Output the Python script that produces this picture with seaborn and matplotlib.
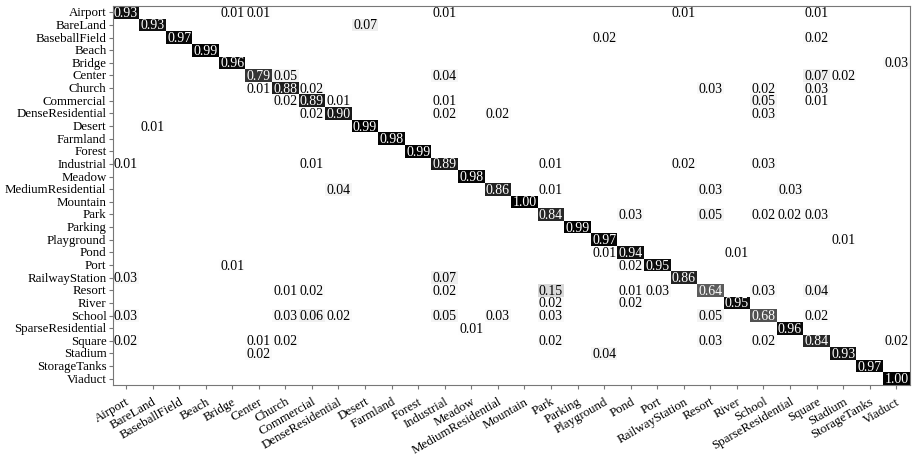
import numpy as np
import pandas as pd
import matplotlib
matplotlib.use("Agg")
import matplotlib.pyplot as plt
from matplotlib import font_manager
import seaborn as sns

classes = [
    "Airport", "BareLand", "BaseballField", "Beach", "Bridge", "Center",
    "Church", "Commercial", "DenseResidential", "Desert", "Farmland", "Forest",
    "Industrial", "Meadow", "MediumResidential", "Mountain", "Park", "Parking",
    "Playground", "Pond", "Port", "RailwayStation", "Resort", "River", "School",
    "SparseResidential", "Square", "Stadium", "StorageTanks", "Viaduct",
]

# per-class accuracy (diagonal)
diag = [0.93, 0.93, 0.97, 0.99, 0.96, 0.79, 0.88, 0.89, 0.90, 0.99, 0.98, 0.99,
        0.89, 0.98, 0.86, 1.00, 0.84, 0.99, 0.97, 0.94, 0.95, 0.86, 0.64, 0.95,
        0.68, 0.96, 0.84, 0.93, 0.97, 1.00]

# off-diagonal confusions: true class, predicted class, rate
conf_true = [
    "Airport", "Airport", "Airport", "Airport", "Airport",
    "BareLand",
    "BaseballField", "BaseballField",
    "Bridge",
    "Center", "Center", "Center", "Center",
    "Church", "Church", "Church", "Church", "Church",
    "Commercial", "Commercial", "Commercial", "Commercial", "Commercial",
    "DenseResidential", "DenseResidential", "DenseResidential", "DenseResidential",
    "Desert",
    "Industrial", "Industrial", "Industrial", "Industrial", "Industrial",
    "MediumResidential", "MediumResidential", "MediumResidential", "MediumResidential",
    "Park", "Park", "Park", "Park", "Park",
    "Playground",
    "Pond", "Pond",
    "Port", "Port",
    "RailwayStation", "RailwayStation",
    "Resort", "Resort", "Resort", "Resort", "Resort", "Resort", "Resort", "Resort",
    "River", "River",
    "School", "School", "School", "School", "School", "School", "School", "School", "School",
    "SparseResidential",
    "Square", "Square", "Square", "Square", "Square", "Square", "Square",
    "Stadium", "Stadium",
]
conf_pred = [
    "Bridge", "Center", "Industrial", "RailwayStation", "Square",
    "Desert",
    "Playground", "Square",
    "Viaduct",
    "Church", "Industrial", "Square", "Stadium",
    "Center", "Commercial", "Resort", "School", "Square",
    "Church", "DenseResidential", "Industrial", "School", "Square",
    "Commercial", "Industrial", "MediumResidential", "School",
    "BareLand",
    "Airport", "Commercial", "Park", "RailwayStation", "School",
    "DenseResidential", "Park", "Resort", "SparseResidential",
    "Pond", "Resort", "School", "SparseResidential", "Square",
    "Stadium",
    "Playground", "River",
    "Bridge", "Pond",
    "Airport", "Industrial",
    "Church", "Commercial", "Industrial", "Park", "Pond", "Port", "School", "Square",
    "Park", "Pond",
    "Airport", "Church", "Commercial", "DenseResidential", "Industrial",
    "MediumResidential", "Park", "Resort", "Square",
    "Meadow",
    "Airport", "Center", "Church", "Park", "Resort", "School", "Viaduct",
    "Center", "Playground",
]
conf_rate = [
    0.01, 0.01, 0.01, 0.01, 0.01,
    0.07,
    0.02, 0.02,
    0.03,
    0.05, 0.04, 0.07, 0.02,
    0.01, 0.02, 0.03, 0.02, 0.03,
    0.02, 0.01, 0.01, 0.05, 0.01,
    0.02, 0.02, 0.02, 0.03,
    0.01,
    0.01, 0.01, 0.01, 0.02, 0.03,
    0.04, 0.01, 0.03, 0.03,
    0.03, 0.05, 0.02, 0.02, 0.03,
    0.01,
    0.01, 0.01,
    0.01, 0.02,
    0.03, 0.07,
    0.01, 0.02, 0.02, 0.15, 0.01, 0.03, 0.03, 0.04,
    0.02, 0.02,
    0.03, 0.03, 0.06, 0.02, 0.05, 0.03, 0.03, 0.05, 0.02,
    0.01,
    0.02, 0.01, 0.02, 0.02, 0.03, 0.02, 0.02,
    0.02, 0.04,
]

cm = pd.DataFrame(np.diag(diag), index=classes, columns=classes)
for t, p, r in zip(conf_true, conf_pred, conf_rate):
    cm.loc[t, p] = r

labels = cm.map(lambda v: f"{v:.2f}" if v > 0 else "")

sns.set_style("white")
serif_path = font_manager.findfont(
    font_manager.FontProperties(family="Liberation Serif"))
serif_name = font_manager.FontProperties(fname=serif_path).get_name()
plt.rcParams["font.family"] = "serif"
plt.rcParams["font.serif"] = [serif_name, "Times New Roman", "DejaVu Serif"]
plt.rcParams["text.color"] = "black"

fig = plt.figure(figsize=(9.16, 4.64), dpi=100)
ax = fig.add_axes([0.123, 0.168, 0.870, 0.817])

sns.heatmap(cm, ax=ax, cmap="gray_r", vmin=0, vmax=1, cbar=False,
            annot=labels.values, fmt="", annot_kws={"fontsize": 10},
            xticklabels=True, yticklabels=True)

# dark cells get white numbers, light cells black numbers
for txt in ax.texts:
    s = txt.get_text()
    if s:
        txt.set_color("white" if float(s) > 0.5 else "black")

for side in ["left", "bottom", "top", "right"]:
    ax.spines[side].set_visible(True)
    ax.spines[side].set_color("#777777")
    ax.spines[side].set_linewidth(0.8)

ax.tick_params(axis="both", which="major", length=3, width=0.8,
               color="#777777", direction="out", left=True, bottom=True,
               labelsize=9.3, labelcolor="black")
ax.tick_params(axis="y", pad=1.5)
ax.tick_params(axis="x", pad=4)
ax.set_yticks(np.arange(len(classes)) + 0.5)
ax.set_yticklabels(classes, rotation=0)
ax.set_xticks(np.arange(len(classes)) + 0.5)
ax.set_xticklabels(classes, rotation=30, ha="right", rotation_mode="anchor")
ax.set_xlabel("")
ax.set_ylabel("")

fig.savefig("out.png", dpi=100)
